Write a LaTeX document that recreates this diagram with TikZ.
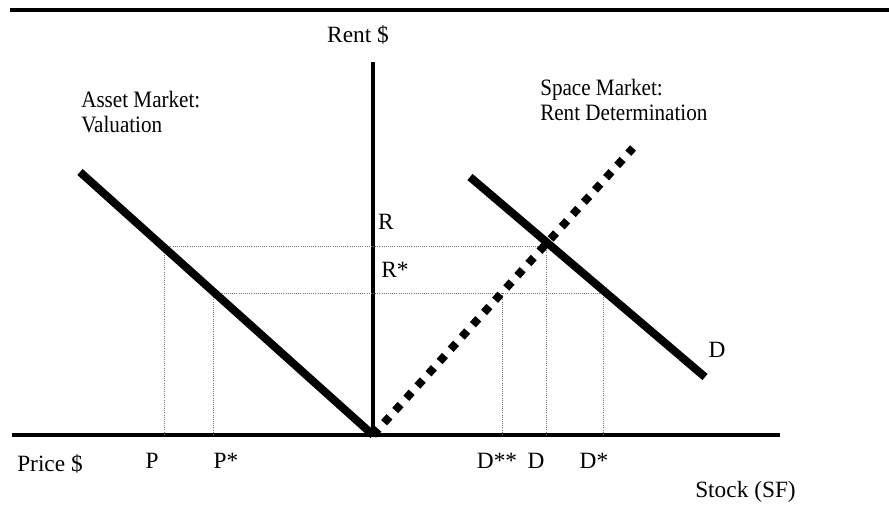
\documentclass[tikz,border=0pt]{standalone}
\usepackage{fontspec}
\setmainfont{Liberation Serif}
\newfontfamily\notefont{Liberation Serif}[FakeStretch=0.9]
\usetikzlibrary{calc,positioning}
\tikzset{
  lbl/.style={font=\notefont\fontsize{17.6}{19}\selectfont,inner sep=0pt,align=left},
  tick/.style={font=\fontsize{17.5}{20}\selectfont,inner sep=0pt},
  axis/.style={line width=2.4pt,black},
  curve/.style={line width=6pt,black},
  supply/.style={line width=6pt,black,dash pattern=on 6pt off 6.4pt},
  guide/.style={line width=0.6pt,black!55,densely dotted}
}

\begin{document}
\begin{tikzpicture}[x=0.75pt,y=-0.75pt]
  \useasboundingbox (0,0) rectangle (889,511);
  % frame rule on top
  \coordinate (tl) at (10,10);
  \coordinate (tr) at (889,10);
  \draw[line width=3pt] (tl) -- (tr);
  % axes
  \coordinate (o) at (373,435);
  \coordinate (top) at (373,62);
  \coordinate (xl) at (12,435);
  \coordinate (xr) at (780,435);
  \draw[axis] (o) -- (top);
  \draw[axis,line width=3.6pt] (xl) -- (xr);
  % asset market line, demand and stock
  \coordinate (a0) at (80,172);
  \coordinate (d0) at (470,177);
  \coordinate (d1) at (705,377);
  \coordinate (s1) at (633,148);
  % guide points
  \coordinate (pr) at (164,246);
  \coordinate (ps) at (213,293);
  \coordinate (dr) at (546,246);
  \coordinate (dss) at (502,293);
  \coordinate (ds) at (603,293);
  \draw[guide] (pr) -- (dr);
  \draw[guide] (ps) -- (ds);
  \draw[guide] (pr) -- (pr |- o);
  \draw[guide] (ps) -- (ps |- o);
  \draw[guide] (dss) -- (dss |- o);
  \draw[guide] (dr) -- (dr |- o);
  \draw[guide] (ds) -- (ds |- o);
  \draw[curve] (a0) -- (o);
  \draw[curve] (d0) -- (d1);
  \draw[supply] (o) -- (s1);
  % labels
  \node[tick] (rent) at (358,35) {Rent \$};
  \node[lbl,anchor=west] (asset) at (81,112) {Asset Market:\\Valuation};
  \node[lbl,anchor=west] (space) at (540,100) {Space Market:\\Rent Determination};
  \node[tick] (r) at (386,222) {R};
  \node[tick] (rs) at (395,270) {R*};
  \node[tick] (dl) at (717,350) {D};
  \node[tick,anchor=west] (price) at (17,464) {Price \$};
  \node[tick] (p) at (152,461) {P};
  \node[tick] (psl) at (226,461) {P*};
  \node[tick] (dssl) at (497,461) {D**};
  \node[tick] (dlb) at (536,461) {D};
  \node[tick] (dsl) at (594,461) {D*};
  \node[tick,anchor=west] (stock) at (695,492) {Stock (SF)};
\end{tikzpicture}
\end{document}
